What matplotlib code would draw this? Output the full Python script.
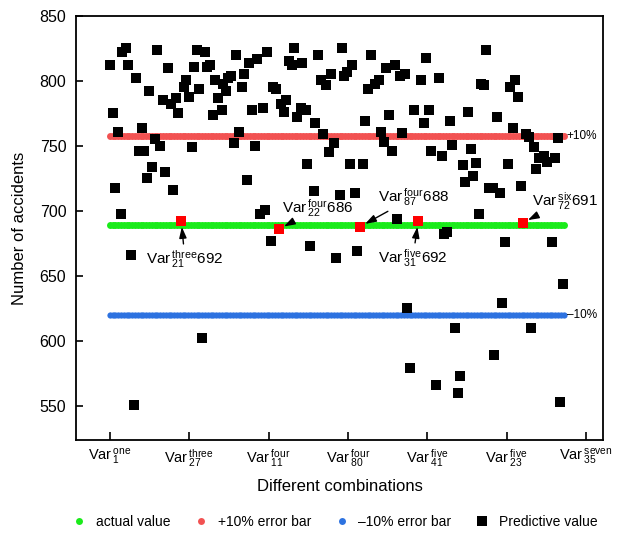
import matplotlib
matplotlib.use('Agg')
import matplotlib.pyplot as plt
from matplotlib.lines import Line2D
import numpy as np

plt.rcParams['font.family'] = ['Liberation Sans', 'DejaVu Sans']
plt.rcParams['mathtext.fontset'] = 'custom'
plt.rcParams['mathtext.rm'] = 'Liberation Sans'
plt.rcParams['mathtext.it'] = 'Liberation Sans'

# 组合编号(横坐标)与预测事故数
pred_x = [0, 1.2, 1.9, 3.0, 4.0, 4.5, 5.7, 6.5, 7.6, 8.7,
          9.3, 10.5, 11.5, 12.1, 13.3, 14.0, 15.1, 16.2, 16.9, 18.0,
          18.9, 19.8, 20.7, 21.8, 22.6, 23.7, 24.4, 26.5, 27.1, 28.3,
          29.4, 30.1, 31.1, 31.9, 33.0, 34.0, 34.8, 35.7, 36.9, 37.6,
          38.7, 39.9, 40.5, 41.5, 42.2, 43.3, 44.4, 45.1, 46.2, 47.3,
          48.0, 49.0, 49.8, 50.8, 51.9, 52.6, 53.7, 54.8, 55.5, 56.2,
          57.5, 58.2, 59.4, 61.1, 62.3, 63.0, 63.9, 65.1, 65.8, 66.9,
          68.2, 68.7, 69.9, 70.5, 71.5, 72.8, 73.3, 74.4, 75.4, 76.2,
          77.1, 78.3, 79.0, 80.1, 80.8, 82.0, 82.9, 83.7, 84.6, 85.8,
          86.5, 87.6, 88.3, 90.5, 91.2, 92.3, 93.3, 94.6, 96.2, 96.9,
          98.0, 98.6, 99.8, 100.8, 101.7, 102.6, 103.7, 104.4, 105.5, 106.2,
          107.3, 108.6, 111.1, 112.0, 113.0, 114.0, 114.5, 116.5, 117.6, 118.7,
          119.4, 120.5, 121.5, 122.3, 123.3, 124.4, 125.1, 126.2, 126.9, 128.0,
          129.0, 129.8, 130.8, 131.9, 132.5, 133.7, 134.4, 135.5, 136.7, 137.3,
          138.3, 139.4, 140.1, 141.2, 142.3, 143.0, 144.0, 144.8, 145.8, 146.9,
          148.6, 149.8, 150.5, 151.5, 152.3, 153.3, 155.1, 156.2, 158.0, 158.9,
          160.1, 160.8, 161.9]
pred_y = [812, 775, 718, 761, 698, 822, 825, 812, 666, 551,
          802, 746, 764, 746, 725, 792, 734, 755, 824, 750,
          785, 730, 810, 782, 716, 787, 775, 795, 801, 788,
          749, 811, 824, 794, 602, 822, 811, 812, 774, 801,
          787, 778, 798, 792, 802, 804, 752, 820, 761, 795,
          805, 724, 814, 778, 750, 817, 698, 779, 701, 822,
          677, 795, 794, 782, 776, 785, 815, 812, 825, 772,
          779, 814, 778, 736, 673, 715, 768, 820, 801, 759,
          797, 745, 805, 752, 664, 712, 825, 804, 807, 736,
          812, 714, 669, 736, 769, 794, 820, 798, 801, 761,
          753, 810, 774, 746, 812, 694, 804, 760, 805, 625,
          579, 778, 801, 768, 818, 778, 746, 566, 802, 742,
          682, 684, 769, 751, 610, 560, 573, 735, 722, 776,
          748, 727, 737, 698, 798, 797, 824, 718, 718, 589,
          772, 714, 629, 676, 736, 795, 764, 801, 788, 719,
          759, 757, 610, 749, 732, 741, 742, 738, 676, 741,
          756, 553, 644]

# 实际值与 ±10% 误差线
actual = 689
n_comb = 163
upper = actual * 1.1
lower = actual * 0.9

# 标注的点
hl_x = [25.5, 60.4, 89.4, 110.1, 147.5]
hl_y = [692, 686, 688, 692, 691]
hl_text = [r'Var$\,_{21}^{\mathrm{three}}$692', r'Var$\,_{22}^{\mathrm{four}}$686',
           r'Var$\,_{87}^{\mathrm{four}}$688', r'Var$\,_{31}^{\mathrm{five}}$692',
           r'Var$\,_{72}^{\mathrm{six}}$691']
hl_text_xy = [(26.8, 663), (74.3, 702.3), (108.6, 710.8), (108.2, 663.8), (162.5, 707.7)]

tick_pos = np.linspace(0, 170, 7)
tick_labels = [r'Var$\,_{1}^{\mathrm{one}}$', r'Var$\,_{27}^{\mathrm{three}}$',
               r'Var$\,_{11}^{\mathrm{four}}$', r'Var$\,_{80}^{\mathrm{four}}$',
               r'Var$\,_{41}^{\mathrm{five}}$', r'Var$\,_{23}^{\mathrm{five}}$',
               r'Var$\,_{35}^{\mathrm{seven}}$']

green = '#1aeb1a'
red = '#f25252'
blue = '#2d72e0'

fig = plt.figure(figsize=(6.21, 5.33), dpi=100)
ax = fig.add_axes([0.1224, 0.1745, 0.8486, 0.7955])

line_x = np.arange(n_comb)
ax.plot(line_x, [actual] * n_comb, 'o', color=green, ms=5, mew=0, zorder=2)
ax.plot(line_x, [upper] * n_comb, 'o', color=red, ms=5, mew=0, zorder=2)
ax.plot(line_x, [lower] * n_comb, 'o', color=blue, ms=4.5, mew=0, zorder=2)

ax.plot(pred_x, pred_y, 's', color='black', ms=6.5, mew=0, zorder=3)
ax.plot(hl_x, hl_y, 's', color='#ff0000', ms=6.5, mew=0, zorder=4)

for x, y, t, (tx, ty) in zip(hl_x, hl_y, hl_text, hl_text_xy):
    ax.annotate(t, xy=(x, y), xytext=(tx, ty), ha='center', va='center', fontsize=11,
                arrowprops=dict(arrowstyle='-|>,head_length=0.6,head_width=0.2',
                                color='black', lw=1, shrinkA=1, shrinkB=4))

ax.text(163.2, upper, '+10%', fontsize=8.5, va='center', ha='left')
ax.text(163.2, lower, '\u201310%', fontsize=8.5, va='center', ha='left')

ax.set_xlim(-12.1, 176.1)
ax.set_ylim(523.8, 850)
ax.set_yticks([550, 600, 650, 700, 750, 800, 850])
ax.set_xticks(tick_pos)
ax.set_xticklabels(tick_labels, fontsize=10.5)
ax.tick_params(axis='y', direction='in', length=5, labelsize=11.5, width=1.2, pad=7)
ax.tick_params(axis='x', direction='in', length=6, width=1.2, pad=5)
for s in ax.spines.values():
    s.set_linewidth(1.3)

ax.set_xlabel('Different combinations', fontsize=12, labelpad=7)
ax.set_ylabel('Number of accidents', fontsize=12, labelpad=9)

handles = [Line2D([], [], ls='none', marker='o', color=green, ms=5, mew=0),
           Line2D([], [], ls='none', marker='o', color=red, ms=5, mew=0),
           Line2D([], [], ls='none', marker='o', color=blue, ms=5, mew=0),
           Line2D([], [], ls='none', marker='s', color='black', ms=7, mew=0)]
fig.legend(handles, ['actual value', '+10% error bar', '\u201310% error bar', 'Predictive value'],
           loc='center', bbox_to_anchor=(0.538, 0.02), ncol=4, frameon=False,
           fontsize=10, handletextpad=0.6, columnspacing=1.6, handlelength=1.2)

fig.savefig('out.png', dpi=100)
